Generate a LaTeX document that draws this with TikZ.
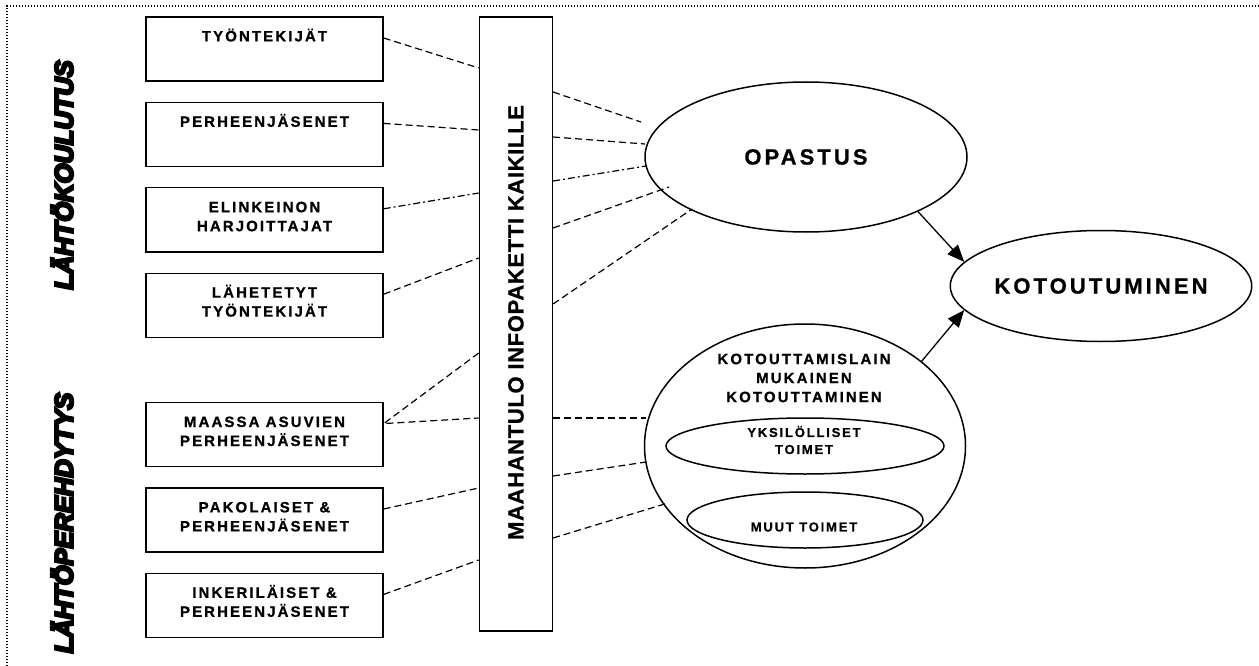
\documentclass[tikz,border=0pt]{standalone}
\usepackage{fontspec}
\setmainfont{Liberation Sans}
\newfontfamily\spacedfont{Liberation Sans}[LetterSpace=14, BoldFeatures={FakeBold=0.8}]
\newfontfamily\barfont{Liberation Sans}[LetterSpace=3, BoldFeatures={FakeBold=0.8}]
\font\heavyfont="Liberation Sans/BI:embolden=9" at 25.5pt
\usetikzlibrary{shapes,arrows.meta,positioning}

\newcommand\twolines[2]{\strut #1\\\rule[-9.5pt]{0pt}{13pt}#2}

\begin{document}
\begin{tikzpicture}[
    x=1pt, y=-1pt,
    node distance=20pt,
    box/.style={rectangle, draw, line width=1.4pt, minimum width=237pt, minimum height=64pt, inner sep=0pt, align=center, font=\spacedfont\bfseries\fontsize{15}{19}\selectfont},
    infobar/.style={rectangle, draw, line width=1.4pt, minimum width=73pt, minimum height=614pt},
    oval/.style={ellipse, draw, line width=1.5pt, inner sep=0pt},
    textbig/.style={font=\spacedfont\bfseries\fontsize{22}{26}\selectfont},
    textmid/.style={align=center, font=\spacedfont\bfseries\fontsize{15}{19}\selectfont},
    textsmall/.style={align=center, font=\spacedfont\bfseries\fontsize{13}{17}\selectfont},
    side/.style={rotate=90, font=\heavyfont},
    link/.style={line width=1.2pt, dash pattern=on 7pt off 4pt},
    dotlink/.style={line width=1.2pt, dash pattern=on 7pt off 3pt on 2pt off 3pt},
    headarrow/.style={line width=1.3pt, -{Triangle[length=17pt,width=14pt]}},
    dotframe/.style={line width=1.4pt, dash pattern=on 1.4pt off 1.6pt},
]
    \useasboundingbox (0,0) rectangle (1259,666);
    \draw[dotframe] (1259,6) -- (7,6) -- (7,666);

    % side titles
    \node[side] (course) at (62,175) {LÄHTÖKOULUTUS};
    \node[side] (orient) at (62,523) {LÄHTÖPEREHDYTYS};

    % groups
    \node[box] (b1) at (264.5,49) {\twolines{TYÖNTEKIJÄT}{}};
    \node[box, below=of b1] (b2) {\twolines{PERHEENJÄSENET}{}};
    \node[box, below=of b2] (b3) {\twolines{ELINKEINON}{HARJOITTAJAT}};
    \node[box, below=of b3] (b4) {\twolines{LÄHETETYT}{TYÖNTEKIJÄT}};
    \node[box, below=64pt of b4] (b5) {\twolines{MAASSA ASUVIEN}{PERHEENJÄSENET}};
    \node[box, below=of b5] (b6) {\twolines{PAKOLAISET \&}{PERHEENJÄSENET}};
    \node[box, below=of b6] (b7) {\twolines{INKERILÄISET \&}{PERHEENJÄSENET}};

    \node[infobar, right=95pt of b1.north east, anchor=north west] (bar) {};
    \node[rotate=90, font=\barfont\bfseries\fontsize{22}{26}\selectfont] (info) at ([yshift=1.5pt]bar.center) {MAAHANTULO INFOPAKETTI KAIKILLE};

    % right side
    \node[oval, minimum width=322pt, minimum height=150pt, textbig] (opastus) at (806,157) {OPASTUS};
    \node[oval, minimum width=276pt, minimum height=111pt, textbig] (kotou) at (1101,286) {KOTOUTUMINEN};
    \node[oval, minimum width=321pt, minimum height=244pt] (laki) at (805,446) {};
    \node[textmid] (lakitext) at (804,378) {KOTOUTTAMISLAIN\\MUKAINEN\\KOTOUTTAMINEN};
    \node[oval, minimum width=278pt, minimum height=56pt] (yks) at (805,446) {};
    \node[textsmall] (ykstext) at (804,440) {YKSILÖLLISET\\TOIMET};
    \node[oval, minimum width=236pt, minimum height=56pt] (muut) at (805,520) {};
    \node[textsmall] (muuttext) at (804,527) {MUUT TOIMET};

    \draw[headarrow] (opastus.-26) -- (kotou.170);
    \draw[headarrow] (laki.36) -- (kotou.190);

    % ends of the dashed lines
    \coordinate (w1) at (bar.west |- 0,68);
    \coordinate (w2) at (bar.west |- 0,130);
    \coordinate (w3) at (bar.west |- 0,193);
    \coordinate (w4) at (bar.west |- 0,258);
    \coordinate (w5) at (bar.west |- 0,353);
    \coordinate (w6) at (bar.west |- 0,418);
    \coordinate (w7) at (bar.west |- 0,488);
    \coordinate (w8) at (bar.west |- 0,560);
    \coordinate (e1) at (bar.east |- 0,92);
    \coordinate (e2) at (bar.east |- 0,137);
    \coordinate (e3) at (bar.east |- 0,181);
    \coordinate (e4) at (bar.east |- 0,228);
    \coordinate (e5) at (bar.east |- 0,304);
    \coordinate (e6) at (bar.east |- 0,418);
    \coordinate (e7) at (bar.east |- 0,476);
    \coordinate (e8) at (bar.east |- 0,538);
    \coordinate (o1) at (641,122);
    \coordinate (o2) at (645,144);
    \coordinate (o3) at (646,166);
    \coordinate (o4) at (669,187);
    \coordinate (o5) at (692,209);
    \coordinate (k1) at (646,418);
    \coordinate (k2) at (646,462);
    \coordinate (k3) at (668,503);

    \draw[link] ([yshift=11pt]b1.east) -- (w1);
    \draw[link] ([yshift=11pt]b2.east) -- (w2);
    \draw[dotlink] ([yshift=11pt]b3.east) -- (w3);
    \draw[link] ([yshift=11pt]b4.east) -- (w4);
    \draw[link] (w5) -- ([yshift=11pt]b5.east) -- (w6);
    \draw[link] ([yshift=11pt]b6.east) -- (w7);
    \draw[link] ([yshift=11pt]b7.east) -- (w8);

    \draw[link] (e1) -- (o1);
    \draw[link] (e2) -- (o2);
    \draw[dotlink] (e3) -- (o3);
    \draw[link] (e4) -- (o4);
    \draw[link] (e5) -- (o5);
    \draw[link] (e6) -- (k1);
    \draw[link] (e7) -- (k2);
    \draw[link] (e8) -- (k3);
\end{tikzpicture}
\end{document}
